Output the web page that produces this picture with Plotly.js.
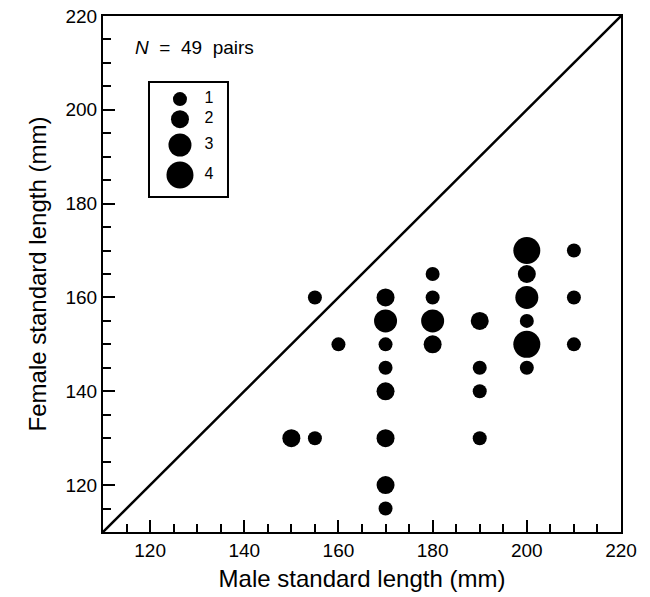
<!DOCTYPE html>
<html>
<head>
<meta charset="utf-8">
<script src="https://cdn.plot.ly/plotly-3.0.1.min.js"></script>
<style>html,body{margin:0;padding:0;background:#fff;}</style>
</head>
<body>
<div id="chart" style="width:650px;height:597px;"></div>
<script>
// Data: male SL, female SL, number of pairs at that point
const maleSL   = [150,155,155,160, 170,170,170,170,170,170,170,170, 180,180,180,180, 190,190,190,190, 200,200,200,200,200,200, 210,210,210];
const femaleSL = [130,130,160,150, 160,155,150,145,140,130,120,115, 165,160,155,150, 155,145,140,130, 170,165,160,155,150,145, 170,160,150];
const pairCount= [2,1,1,1,         2,3,1,1,2,2,2,1,                 1,1,3,2,         2,1,1,1,         4,2,3,1,4,1,                 1,1,1];
const legendCounts = [1,2,3,4];
const xTicks = [120,140,160,180,200,220];
const yTicks = [120,140,160,180,200,220];
const diagLine = [110,220];

// styling: marker diameter (px) per count
const sizeFor = {1:14, 2:18, 3:23, 4:27};
const total = pairCount.reduce((a,b)=>a+b,0);

const font = "Liberation Sans, Arial, sans-serif";

const traces = [
  {x: diagLine, y: diagLine, mode:'lines', line:{color:'#000', width:2.5}, hoverinfo:'skip', showlegend:false},
  {x: maleSL, y: femaleSL, mode:'markers', showlegend:false,
   marker:{color:'#000', opacity:1, size: pairCount.map(c=>sizeFor[c]), line:{width:0}}},
  // size key
  {x: legendCounts.map(()=>0.1486), y: [0.839,0.800,0.750,0.692], xaxis:'x2', yaxis:'y2',
   mode:'markers', showlegend:false, hoverinfo:'skip',
   marker:{color:'#000', opacity:1, size: legendCounts.map(c=>sizeFor[c]), line:{width:0}}},
  {x: legendCounts.map(()=>0.196), y: [0.839,0.800,0.750,0.692], xaxis:'x2', yaxis:'y2',
   mode:'text', text: legendCounts.map(String), textposition:'middle right', showlegend:false, hoverinfo:'skip',
   textfont:{family:font, size:16, color:'#000'}}
];

const axisCommon = {
  range:[110,220], showgrid:false, zeroline:false,
  showline:true, linecolor:'#000', linewidth:2, mirror:true,
  ticks:'inside', ticklen:12, tickwidth:2, tickcolor:'#000',
  tickfont:{family:font, size:19, color:'#000'},
  minor:{ticks:'inside', ticklen:8, tickwidth:2, tickcolor:'#000', dtick:5, tick0:110, showgrid:false}
};

const layout = {
  width:650, height:597,
  margin:{l:103, r:29, t:16, b:65},
  paper_bgcolor:'#fff', plot_bgcolor:'#fff',
  xaxis: Object.assign({}, axisCommon, {tickvals:xTicks, ticktext:xTicks.map(String),
    title:{text:'Male standard length (mm)', font:{family:font, size:24, color:'#000'}, standoff:10}}),
  yaxis: Object.assign({}, axisCommon, {tickvals:yTicks, ticktext:yTicks.map(String),
    title:{text:'Female standard length (mm)', font:{family:font, size:24, color:'#000'}, standoff:12}}),
  xaxis2: {overlaying:'x', range:[0,1], visible:false, fixedrange:true},
  yaxis2: {overlaying:'y', range:[0,1], visible:false, fixedrange:true},
  shapes: [
    {type:'rect', xref:'paper', yref:'paper', x0:0.0888, x1:0.2413, y0:0.649, y1:0.872,
     line:{color:'#000', width:2}, fillcolor:'rgba(0,0,0,0)'}
  ],
  annotations: [
    {xref:'paper', yref:'paper', x:0.058, y:0.938, xanchor:'left', yanchor:'middle', showarrow:false,
     text:'<i>N</i>&nbsp; =&nbsp; ' + total + '&nbsp; pairs', font:{family:font, size:19, color:'#000'}}
  ]
};

Plotly.newPlot('chart', traces, layout, {displayModeBar:false, staticPlot:true});
</script>
</body>
</html>
